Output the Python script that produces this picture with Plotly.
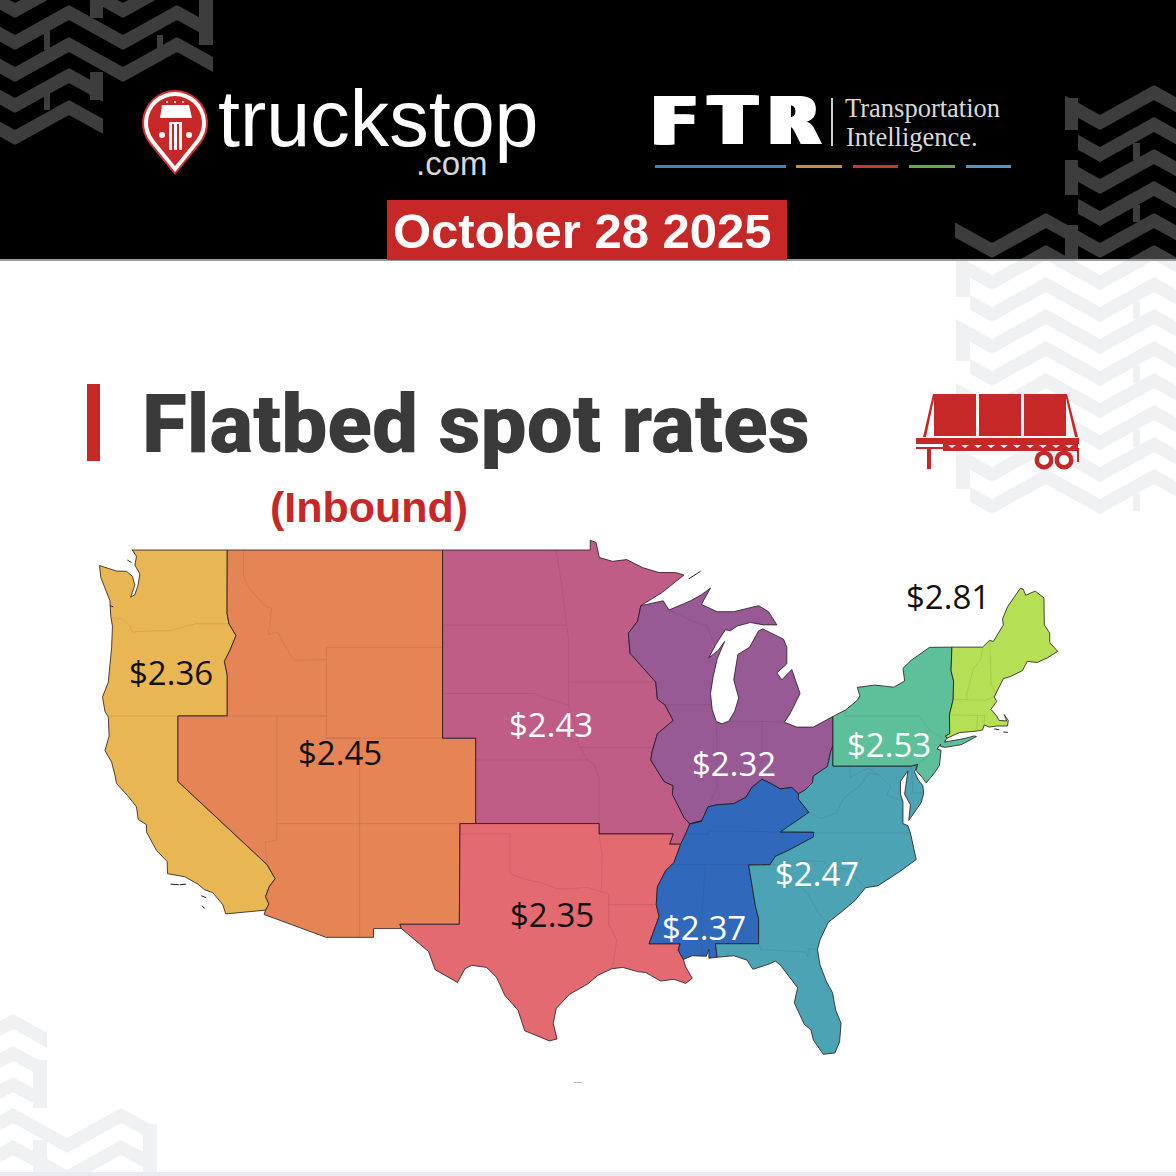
import math

import plotly.graph_objects as go

W = 1176
H = 1176
PX_PER_DEG = 16.59
LEFT_LON = -124.7
LEFT_PX = 100
TOP_LAT = 49.0
TOP_PX = 550

RED = "#c62828"
DARK_CHEVRON = "#3d3d3d"
PALE_CHEVRON = "#f0f1f2"

region_names = ["West", "Mountain", "Plains", "South Central", "Midwest", "Mid South", "Southeast", "Mid Atlantic", "New England"]
region_rates = ["$2.36", "$2.45", "$2.43", "$2.35", "$2.32", "$2.37", "$2.47", "$2.53", "$2.81"]
region_colors = ["#e8b653", "#e58555", "#c05d87", "#e26a70", "#985a95", "#3068bc", "#4ca3b3", "#5dc09a", "#b5df55"]
label_colors = ["#111111", "#111111", "#ffffff", "#111111", "#ffffff", "#ffffff", "#ffffff", "#ffffff", "#111111"]
label_x = [171, 340, 551, 552, 734, 704, 817, 889, 948]
label_y = [672, 752, 724, 915, 763, 927, 873, 744, 596]

# borders as lon, lat. regions are stitched out of these further down
pacific_coast = [
    (-122.76, 49.0), (-122.5, 48.75), (-122.6, 48.4), (-122.3, 48.05), (-122.4, 47.6), (-122.6, 47.2), (-122.85, 47.1),
    (-122.6, 47.6), (-122.75, 47.95), (-123.1, 48.15), (-123.7, 48.16), (-124.73, 48.38), (-124.65, 47.9), (-124.3, 47.3),
    (-124.1, 46.95), (-124.05, 46.3), (-123.95, 45.9), (-124.0, 45.0), (-124.1, 44.3), (-124.2, 43.5), (-124.55, 42.84),
    (-124.4, 42.2), (-124.2, 41.95), (-124.15, 41.1), (-124.4, 40.43), (-124.0, 39.9), (-123.8, 39.3), (-123.7, 38.9),
    (-123.0, 38.3), (-122.5, 37.8), (-122.4, 37.2), (-121.9, 36.95), (-121.9, 36.6), (-121.3, 35.7), (-120.65, 35.15),
    (-120.63, 34.55), (-119.6, 34.4), (-118.8, 34.03), (-118.4, 33.75), (-117.9, 33.6), (-117.3, 33.0), (-117.12, 32.53),
]
ca_east = [
    (-114.72, 32.72), (-114.52, 33.03), (-114.72, 33.4), (-114.5, 33.9), (-114.14, 34.3), (-114.63, 35.0), (-120.0, 39.0), (-120.0, 42.0),
]
or_wa_east = [
    (-120.0, 42.0), (-117.03, 42.0), (-117.03, 43.8), (-117.2, 44.4), (-116.85, 44.9), (-116.5, 45.5), (-116.92, 45.99),
    (-117.04, 46.42), (-117.03, 49.0),
]
orange_east = [(-104.05, 49.0), (-104.05, 41.0), (-102.05, 41.0), (-102.05, 37.0)]
red_west = [(-103.0, 37.0), (-103.04, 32.0), (-106.62, 32.0), (-106.53, 31.78)]
mexico_nm_az = [(-108.21, 31.78), (-108.21, 31.33), (-111.07, 31.33), (-114.81, 32.5)]
mn_north = [
    (-95.15, 49.0), (-95.15, 49.38), (-94.8, 49.3), (-94.6, 48.7), (-93.8, 48.55), (-92.95, 48.62), (-92.0, 48.3),
    (-91.0, 48.1), (-90.0, 48.1), (-89.5, 48.0), (-90.8, 47.3), (-92.1, 46.75),
]
upper_miss = [
    (-92.1, 46.75), (-92.3, 46.1), (-92.85, 45.6), (-92.75, 44.75), (-91.2, 43.5), (-91.1, 42.75), (-90.65, 42.5),
    (-90.15, 41.8), (-91.1, 41.2), (-91.42, 40.38), (-91.5, 40.0), (-90.7, 39.0), (-90.15, 38.8), (-90.2, 38.4),
    (-89.5, 37.3), (-89.15, 36.98),
]
ozark_south = [(-94.62, 37.0), (-94.62, 36.5), (-90.15, 36.5), (-90.37, 36.0), (-89.7, 36.0)]
lower_river = [
    (-89.7, 36.0), (-90.1, 35.1), (-90.6, 34.7), (-91.1, 33.9), (-91.17, 33.0), (-91.0, 32.4), (-91.6, 31.0),
    (-89.73, 31.0), (-89.85, 30.67), (-89.53, 30.18),
]
gulf_la_tx = [
    (-89.4, 29.8), (-89.0, 29.2), (-89.4, 28.93), (-90.1, 29.15), (-90.9, 29.05), (-91.8, 29.5), (-92.3, 29.55),
    (-93.2, 29.77), (-93.85, 29.7), (-94.7, 29.35), (-95.3, 28.9), (-96.4, 28.35), (-97.2, 27.6), (-97.38, 26.8),
    (-97.15, 25.96), (-97.6, 25.85), (-99.1, 26.4), (-99.5, 27.5), (-100.3, 28.3), (-100.8, 29.25), (-101.4, 29.77),
    (-102.3, 29.88), (-102.7, 29.7), (-103.15, 28.98), (-104.5, 29.65), (-104.9, 30.6),
]
great_lakes_shore = [
    (-92.1, 46.75), (-91.2, 46.9), (-90.75, 46.95), (-90.4, 46.57), (-89.1, 46.95), (-88.45, 47.2), (-87.9, 47.47),
    (-88.45, 46.8), (-87.5, 46.5), (-86.5, 46.5), (-85.0, 46.75), (-84.4, 46.5), (-84.1, 46.2), (-83.9, 45.95),
    (-84.7, 45.95), (-85.5, 46.05), (-86.3, 45.9), (-86.7, 45.7), (-87.0, 45.75), (-87.6, 45.1), (-88.0, 44.55),
    (-87.4, 44.9), (-87.05, 45.25), (-87.5, 44.5), (-87.75, 43.7), (-87.9, 43.0), (-87.8, 42.3), (-87.55, 41.75),
    (-87.2, 41.65), (-86.8, 41.77), (-86.45, 42.2), (-86.2, 42.8), (-86.5, 43.6), (-86.25, 44.7), (-85.55, 45.0),
    (-85.0, 45.7), (-84.75, 45.78), (-83.5, 45.35), (-83.3, 45.0), (-83.3, 44.3), (-83.9, 43.9), (-83.6, 43.6),
    (-83.0, 44.05), (-82.5, 43.0), (-82.9, 42.4), (-83.15, 42.05), (-83.45, 41.72), (-82.7, 41.5), (-81.7, 41.5),
    (-80.52, 41.98),
]
ohio_wv = [
    (-80.52, 40.64), (-80.65, 40.4), (-80.85, 39.7), (-81.7, 39.25), (-81.75, 38.95), (-82.2, 38.6), (-82.6, 38.42),
]
ohio_ky = [
    (-82.6, 38.42), (-83.0, 38.72), (-83.7, 38.65), (-84.25, 38.9), (-84.8, 39.1), (-85.4, 38.73), (-85.75, 38.27),
    (-86.5, 37.95), (-87.5, 37.9), (-88.05, 37.8), (-88.45, 37.1), (-89.15, 36.98),
]
blue_east = [
    (-82.6, 38.42), (-82.6, 38.17), (-81.97, 37.54), (-83.68, 36.6), (-81.68, 36.59), (-81.7, 36.35), (-82.5, 36.0),
    (-83.2, 35.7), (-84.0, 35.4), (-84.32, 34.99), (-85.6, 34.98), (-85.18, 32.87), (-85.0, 32.3), (-85.0, 31.0),
    (-87.6, 31.0), (-87.5, 30.3),
]
ms_al_coast = [(-88.0, 30.25), (-88.0, 30.7), (-88.15, 30.35), (-89.0, 30.38), (-89.53, 30.18)]
pa_south = [(-80.52, 39.72), (-75.79, 39.72), (-75.42, 39.8)]
atlantic_se = [
    (-75.6, 39.45), (-75.4, 39.1), (-75.1, 38.8), (-75.05, 38.45), (-75.2, 38.0), (-75.6, 37.55), (-75.95, 37.15),
    (-75.85, 37.9), (-76.2, 38.4), (-76.0, 39.5), (-76.45, 39.0), (-76.45, 38.4), (-76.3, 38.05), (-76.3, 37.0),
    (-76.0, 36.9), (-75.85, 36.55), (-75.5, 35.25), (-76.5, 34.65), (-77.8, 33.95), (-78.55, 33.85), (-79.2, 33.2),
    (-79.9, 32.7), (-80.8, 32.1), (-81.3, 31.2), (-81.45, 30.7), (-81.3, 29.9), (-80.9, 29.0), (-80.55, 28.45),
    (-80.35, 27.5), (-80.03, 26.8), (-80.12, 25.8), (-80.4, 25.2), (-81.1, 25.12), (-81.7, 25.9), (-81.85, 26.45),
    (-82.25, 26.75), (-82.6, 27.4), (-82.85, 27.9), (-82.65, 28.7), (-83.05, 29.15), (-83.7, 29.9), (-84.0, 30.1),
    (-84.35, 29.95), (-85.35, 29.67), (-85.7, 30.15), (-86.5, 30.38),
]
ny_lakes = [
    (-79.76, 42.27), (-79.05, 42.7), (-78.9, 42.9), (-79.05, 43.27), (-78.0, 43.37), (-76.85, 43.28), (-76.2, 43.55),
    (-76.3, 44.1), (-75.8, 44.45), (-74.7, 45.0), (-73.35, 45.01),
]
ny_east = [
    (-73.35, 45.01), (-73.4, 44.0), (-73.25, 43.55), (-73.27, 42.74), (-73.5, 42.05), (-73.48, 41.2), (-73.73, 41.1), (-73.65, 41.0),
]
li_nj_coast = [
    (-73.8, 40.82), (-72.6, 40.98), (-72.0, 41.1), (-71.87, 41.07), (-72.8, 40.7), (-73.75, 40.58), (-74.03, 40.62),
    (-74.03, 40.72), (-74.25, 40.5), (-74.0, 40.45), (-74.1, 39.75), (-74.4, 39.4), (-74.9, 38.93), (-75.15, 39.2), (-75.5, 39.5),
]
new_england_coast = [
    (-71.5, 45.01), (-71.08, 45.3), (-70.85, 45.25), (-70.4, 45.75), (-70.25, 45.95), (-70.3, 46.2), (-70.0, 46.7),
    (-69.23, 47.46), (-69.05, 47.43), (-68.9, 47.18), (-68.33, 47.35), (-67.8, 47.07), (-67.78, 45.95), (-67.45, 45.6),
    (-67.45, 45.2), (-66.97, 44.83), (-67.6, 44.55), (-68.2, 44.35), (-68.8, 44.4), (-69.1, 44.0), (-69.8, 43.75),
    (-70.25, 43.65), (-70.6, 43.1), (-70.8, 42.85), (-70.65, 42.65), (-71.0, 42.3), (-70.65, 42.0), (-70.5, 41.8),
    (-70.05, 41.78), (-70.2, 42.07), (-69.95, 41.8), (-70.0, 41.55), (-70.65, 41.55), (-71.1, 41.5), (-71.4, 41.6),
    (-71.5, 41.37), (-71.85, 41.32), (-72.9, 41.25),
]
# faint state lines inside the regions
state_lines = [
    [(-124.0, 46.25), (-123.4, 46.2), (-122.9, 45.9), (-122.75, 45.65), (-121.5, 45.7), (-120.5, 45.7), (-119.3, 45.93), (-118.98, 46.0), (-116.92, 46.0)],
    [(-124.2, 42.0), (-120.0, 42.0)],
    [(-116.05, 49.0), (-116.05, 48.0), (-115.7, 47.45), (-114.7, 46.7), (-114.35, 46.65), (-114.55, 45.55), (-114.0, 45.65), (-113.45, 44.95), (-113.0, 44.45), (-111.05, 44.47)],
    [(-111.05, 45.0), (-104.05, 45.0)],
    [(-111.05, 45.0), (-111.05, 41.0), (-104.05, 41.0)],
    [(-117.03, 42.0), (-111.05, 42.0)],
    [(-114.04, 42.0), (-114.04, 36.2), (-114.75, 36.1), (-114.63, 35.0)],
    [(-111.05, 41.0), (-109.05, 41.0), (-109.05, 31.33)],
    [(-114.04, 37.0), (-102.05, 37.0)],
    [(-104.05, 45.94), (-96.56, 45.94)],
    [(-104.05, 43.0), (-98.5, 43.0), (-97.9, 42.8), (-96.45, 42.5)],
    [(-102.05, 40.0), (-95.3, 40.0)],
    [(-97.2, 49.0), (-96.85, 47.5), (-96.56, 45.94), (-96.45, 45.3), (-96.45, 42.5), (-96.1, 41.7), (-95.85, 40.7), (-95.77, 40.58), (-95.3, 40.0), (-94.9, 39.8), (-94.61, 39.1), (-94.62, 37.0)],
    [(-96.45, 43.5), (-91.2, 43.5)],
    [(-95.77, 40.58), (-91.42, 40.58)],
    [(-103.0, 36.5), (-100.0, 36.5), (-100.0, 34.56), (-99.2, 34.3), (-98.1, 34.1), (-97.2, 33.8), (-96.5, 33.8), (-95.3, 33.87), (-94.48, 33.64), (-94.04, 33.55)],
    [(-94.62, 36.5), (-94.43, 35.4), (-94.48, 33.64)],
    [(-94.04, 33.55), (-94.04, 32.0), (-93.55, 31.2), (-93.7, 30.3), (-93.85, 29.7)],
    [(-94.04, 33.0), (-91.17, 33.0)],
    [(-88.2, 35.0), (-88.47, 31.9), (-88.4, 30.3)],
    [(-90.3, 35.0), (-85.6, 35.0)],
    [(-89.4, 36.5), (-88.05, 36.5), (-88.05, 36.65), (-83.68, 36.6)],
    [(-90.4, 46.57), (-89.1, 46.15), (-88.1, 45.9), (-87.8, 45.35), (-87.6, 45.1)],
    [(-90.65, 42.5), (-87.8, 42.5)],
    [(-87.2, 41.76), (-84.8, 41.76), (-83.45, 41.72)],
    [(-87.53, 41.7), (-87.53, 39.3), (-87.5, 38.7), (-88.05, 37.8)],
    [(-84.8, 41.76), (-84.8, 39.1)],
    [(-81.68, 36.55), (-75.85, 36.55)],
    [(-84.32, 35.0), (-83.1, 35.0), (-82.3, 35.2), (-81.05, 35.15), (-80.8, 34.82), (-79.67, 34.8), (-78.55, 33.85)],
    [(-83.1, 35.0), (-83.35, 34.7), (-82.0, 33.5), (-81.4, 32.6), (-80.85, 32.05)],
    [(-85.0, 31.0), (-84.86, 30.7), (-82.2, 30.57), (-82.05, 30.35), (-82.0, 30.75), (-81.45, 30.7)],
    [(-81.97, 37.54), (-81.25, 37.25), (-80.3, 37.5), (-79.9, 38.2), (-78.9, 38.8), (-78.35, 39.4), (-77.75, 39.3)],
    [(-79.48, 39.72), (-79.48, 39.2), (-78.4, 39.62), (-77.75, 39.3), (-77.05, 38.8), (-77.25, 38.35), (-76.3, 38.05)],
    [(-75.79, 39.72), (-75.7, 38.46), (-75.05, 38.45)],
    [(-79.76, 42.27), (-79.76, 42.0), (-75.35, 42.0), (-75.05, 41.75), (-74.7, 41.36), (-75.13, 40.98), (-75.2, 40.68), (-74.75, 40.2), (-75.42, 39.8)],
    [(-74.7, 41.36), (-73.9, 41.0)],
    [(-71.5, 45.01), (-71.6, 44.5), (-72.05, 44.1), (-72.45, 43.0), (-72.46, 42.73)],
    [(-71.08, 45.3), (-70.98, 43.4), (-70.7, 43.07)],
    [(-73.27, 42.74), (-71.3, 42.7), (-70.82, 42.87)],
    [(-73.5, 42.05), (-71.38, 42.02), (-71.4, 41.6)],
    [(-71.8, 42.02), (-71.85, 41.32)],
]
# islands that only show up as dark scribbles
island_lines = [
    [(-89.2, 47.85), (-88.5, 48.15)],
    [(-120.45, 34.03), (-119.95, 34.0)],
    [(-119.9, 34.0), (-119.5, 34.03)],
    [(-118.6, 33.45), (-118.3, 33.35)],
    [(-118.55, 32.95), (-118.4, 32.8)],
    [(-70.8, 41.42), (-70.5, 41.38)],
    [(-70.25, 41.28), (-69.98, 41.26)],
    [(-123.05, 48.6), (-122.8, 48.5)],
    [(-124.1, 46.75), (-123.9, 46.7)],
]

x_left = LEFT_LON - LEFT_PX / PX_PER_DEG
x_right = LEFT_LON + (W - LEFT_PX) / PX_PER_DEG


def merc(lat):
    return math.degrees(math.log(math.tan(math.pi / 4 + math.radians(lat) / 2)))


y_top = merc(TOP_LAT) + TOP_PX / PX_PER_DEG
y_bottom = merc(TOP_LAT) - (H - TOP_PX) / PX_PER_DEG


def px(x):
    return x / W


def py(y):
    return 1 - y / H


def rev(seg):
    return list(reversed(seg))


def poly(points, color, layer="below"):
    path = "M" + "L".join(f"{px(x):.5f},{py(y):.5f}" for x, y in points) + "Z"
    return dict(type="path", path=path, xref="paper", yref="paper", fillcolor=color, line_width=0, layer=layer)


def rect(x0, y0, x1, y1, color):
    return dict(type="rect", xref="paper", yref="paper", x0=px(x0), x1=px(x1), y0=py(y1), y1=py(y0), fillcolor=color, line_width=0, layer="below")


def circle(cx, cy, r, color):
    return dict(type="circle", xref="paper", yref="paper", x0=px(cx - r), x1=px(cx + r), y0=py(cy + r), y1=py(cy - r), fillcolor=color, line_width=0, layer="below")


def band(x0, x1, v_top, v_x, color, thick=15, y_min=None, y_max=None):
    # one zigzag stripe of the tread pattern
    xs = list(range(x0, x1, 2)) + [x1]
    period = 108
    upper = []
    for x in xs:
        d = abs(((x - v_x + period / 2) % period) - period / 2)
        upper.append(v_top - d * 30 / (period / 2))
    lower = [u + thick for u in upper]
    if y_min is not None:
        upper = [max(u, y_min) for u in upper]
        lower = [max(u, y_min) for u in lower]
    if y_max is not None:
        upper = [min(u, y_max) for u in upper]
        lower = [min(u, y_max) for u in lower]
    return poly(list(zip(xs, upper)) + list(zip(reversed(xs), reversed(lower))), color)


def teardrop(cx, cy, r, tip_y):
    a0 = math.asin(r / (tip_y - cy))
    pts = []
    for i in range(25):
        a = -a0 + (math.pi + 2 * a0) * i / 24
        pts.append((cx + r * math.cos(a), cy - r * math.sin(a)))
    return pts + [(cx, tip_y)]


west = pacific_coast + ca_east + or_wa_east
mountain = [(-117.03, 49.0)] + orange_east + red_west + mexico_nm_az + ca_east + or_wa_east
plains = [(-104.05, 49.0)] + mn_north + upper_miss + [(-89.4, 36.5)] + rev(ozark_south) + rev(orange_east)
south_central = red_west[:1] + ozark_south + lower_river + gulf_la_tx + rev(red_west)
midwest = great_lakes_shore + ohio_wv + rev(ohio_ky) + rev(upper_miss)
mid_south = rev(ohio_ky) + blue_east + ms_al_coast + rev(lower_river) + [(-89.4, 36.5)]
southeast = rev(blue_east) + rev(ohio_wv) + pa_south + atlantic_se
mid_atlantic = [(-80.52, 41.98)] + ny_lakes + ny_east + li_nj_coast + rev(pa_south)
new_england = new_england_coast + rev(ny_east)
region_outlines = [west, mountain, plains, south_central, midwest, mid_south, southeast, mid_atlantic, new_england]

shapes = [rect(0, 260, W, H, "#ffffff")]

# pale tread pattern on white, right side and bottom left
for i, v_top in enumerate([275, 307, 339, 371, 403, 435, 467, 499]):
    shapes.append(band(956 if i % 2 == 0 else 970, W, v_top, 1100, PALE_CHEVRON, y_min=261))
    shapes.append(rect(956, v_top - 5, 970, v_top + 22, PALE_CHEVRON) if i % 2 == 0 and i < 7 else rect(1133, v_top - 5, 1140, v_top + 12, PALE_CHEVRON))
for peak_y, x0, x1 in [(1014, 0, 47), (1046, 0, 47), (1077, 0, 33)]:
    shapes.append(band(x0, x1, peak_y + 30, 67, PALE_CHEVRON))
shapes.append(band(0, 157, 1138, 67, PALE_CHEVRON))
shapes.append(band(0, 33, 1170, 67, PALE_CHEVRON, y_max=1172))
shapes.append(band(47, 157, 1170, 67, PALE_CHEVRON, y_max=1172))
shapes.append(rect(33, 1060, 47, 1108, PALE_CHEVRON))
shapes.append(rect(33, 1140, 47, 1172, PALE_CHEVRON))
shapes.append(rect(143, 1124, 157, 1172, PALE_CHEVRON))
shapes.append(rect(0, 1172, W, H, "#e8ebf1"))

shapes.append(rect(0, 0, W, 260, "#000000"))
shapes.append(rect(0, 259, W, 261, "#9a9a9a"))

# dark tread pattern, top left
for v_top, x1 in [(3, 213), (35, 213), (67, 213), (98, 103), (130, 103)]:
    shapes.append(band(0, x1, v_top, 15, DARK_CHEVRON))
for x0, y0, x1, y1 in [(90, 0, 103, 18), (199, 0, 213, 45), (44, 30, 50, 50), (157, 35, 163, 55), (90, 72, 103, 100), (44, 90, 50, 110)]:
    shapes.append(rect(x0, y0, x1, y1, DARK_CHEVRON))

# dark tread pattern, top right
for v_top, x0 in [(115, 1065), (147, 1078), (179, 1065), (211, 1078), (243, 955)]:
    shapes.append(band(x0, W, v_top, 1100, DARK_CHEVRON, y_max=259))
shapes.append(band(1003, W, 275, 1100, DARK_CHEVRON, y_max=259))
for x0, y0, x1, y1 in [(1065, 98, 1078, 130), (1065, 160, 1078, 195), (1133, 143, 1140, 160), (1133, 205, 1140, 222), (1065, 225, 1078, 259)]:
    shapes.append(rect(x0, y0, x1, y1, DARK_CHEVRON))

# truckstop pin
shapes.append(poly(teardrop(175, 123, 33, 175), "#d32f2f"))
shapes.append(poly(teardrop(175, 123, 31, 172), "#ffffff"))
shapes.append(poly(teardrop(175, 123, 27, 166), RED))
shapes.append(poly([(160, 118), (162, 105), (189, 105), (192, 118)], "#ffffff"))
shapes.append(rect(169, 122, 182, 150, "#ffffff"))
shapes.append(rect(172, 124, 174, 150, RED))
shapes.append(rect(177, 124, 179, 150, RED))
for cx, cy, r in [(162, 135, 3), (189, 135, 3), (167, 102, 1), (175, 102, 1), (183, 102, 1)]:
    shapes.append(circle(cx, cy, r, "#ffffff"))

# FTR divider and colour rules
shapes.append(rect(831, 98, 833, 146, "#cfcfcf"))
for x0, x1, color in [(655, 786, "#3f84b5"), (796, 842, "#c98a45"), (853, 898, "#b9402e"), (909, 955, "#6ca34b"), (966, 1011, "#4b97c9")]:
    shapes.append(rect(x0, 165, x1, 168, color))

shapes.append(rect(387, 200, 787, 260, RED))
shapes.append(rect(87, 384, 100, 461, RED))

# flatbed trailer icon
for x0, x1 in [(934, 976), (979, 1021), (1024, 1066)]:
    shapes.append(rect(x0, 394, x1, 436, RED))
shapes.append(poly([(933, 394), (935, 394), (926, 437), (923, 437)], RED))
shapes.append(poly([(1065, 394), (1067, 394), (1078, 437), (1075, 437)], RED))
shapes.append(rect(916, 438, 1079, 444, RED))
shapes.append(rect(943, 444, 1078, 451, RED))
shapes.append(rect(916, 447, 943, 449, RED))
for i in range(10):
    tx = 948 + i * 13
    shapes.append(poly([(tx, 445), (tx + 8, 445), (tx + 4, 448)], "#ffffff"))
shapes.append(rect(927, 448, 931, 469, RED))
shapes.append(rect(1077, 448, 1079, 462, RED))
for cx in [1044, 1064]:
    shapes.append(circle(cx, 460, 9.5, RED))
    shapes.append(circle(cx, 460, 5, "#ffffff"))

shapes.append(rect(574, 1082, 582, 1083, "#bbbbbb"))

fig = go.Figure()
for name, outline, color in zip(region_names, region_outlines, region_colors):
    fig.add_trace(
        go.Scatter(
            x=[p[0] for p in outline] + [outline[0][0]],
            y=[merc(p[1]) for p in outline] + [merc(outline[0][1])],
            mode="lines",
            name=name,
            fill="toself",
            fillcolor=color,
            line=dict(color="rgba(35,25,30,0.8)", width=1),
        )
    )

inner_x = []
inner_y = []
for line in state_lines:
    inner_x += [p[0] for p in line] + [None]
    inner_y += [merc(p[1]) for p in line] + [None]
fig.add_trace(go.Scatter(x=inner_x, y=inner_y, mode="lines", line=dict(color="rgba(50,30,40,0.1)", width=1)))

isle_x = []
isle_y = []
for line in island_lines:
    isle_x += [p[0] for p in line] + [None]
    isle_y += [merc(p[1]) for p in line] + [None]
fig.add_trace(go.Scatter(x=isle_x, y=isle_y, mode="lines", line=dict(color="#222222", width=1)))

annotations = []


def add_text(text, x, y, size, color, family="Liberation Sans", weight="normal", anchor="left", shadow="none"):
    annotations.append(
        dict(
            text=text, x=px(x), y=py(y), xref="paper", yref="paper", showarrow=False, xanchor=anchor, yanchor="middle",
            font=dict(family=family, size=size, color=color, weight=weight, shadow=shadow),
        )
    )


for rate, x, y, color in zip(region_rates, label_x, label_y, label_colors):
    add_text(rate, x, y, 33, color, family="Open Sans", anchor="center")

add_text("truckstop", 216, 119, 79, "#ffffff")
add_text(".com", 414, 163, 33, "#d8d8d8")
add_text(
    "F\u2009T\u2009R", 650, 122, 66, "#ffffff", family="DejaVu Sans", weight="bold",
    shadow="2px 0 0 #fff,-2px 0 0 #fff,4px 0 0 #fff,-4px 0 0 #fff",
)
add_text("Transportation", 843, 108, 26.5, "#d8d8d8", family="Liberation Serif")
add_text("Intelligence.", 844, 137, 26.5, "#d8d8d8", family="Liberation Serif")
add_text("October 28 2025", 391, 231, 49, "#ffffff", weight="bold")
add_text("Flatbed spot rates", 140, 424, 82, "#3a3a3a", family="Roboto", weight=900)
add_text("(Inbound)", 369, 507, 43, RED, weight="bold", anchor="center")

fig.update_layout(
    width=W,
    height=H,
    margin=dict(l=0, r=0, t=0, b=0),
    paper_bgcolor="#ffffff",
    plot_bgcolor="rgba(0,0,0,0)",
    showlegend=False,
    hovermode=False,
    xaxis=dict(visible=False, range=[x_left, x_right], fixedrange=True),
    yaxis=dict(visible=False, range=[y_bottom, y_top], fixedrange=True),
    shapes=shapes,
    annotations=annotations,
)
# the page body has a default margin that would push the picture 8px in
fig.write_html("out.html", config={"displayModeBar": False}, post_script="document.body.style.margin='0';")
